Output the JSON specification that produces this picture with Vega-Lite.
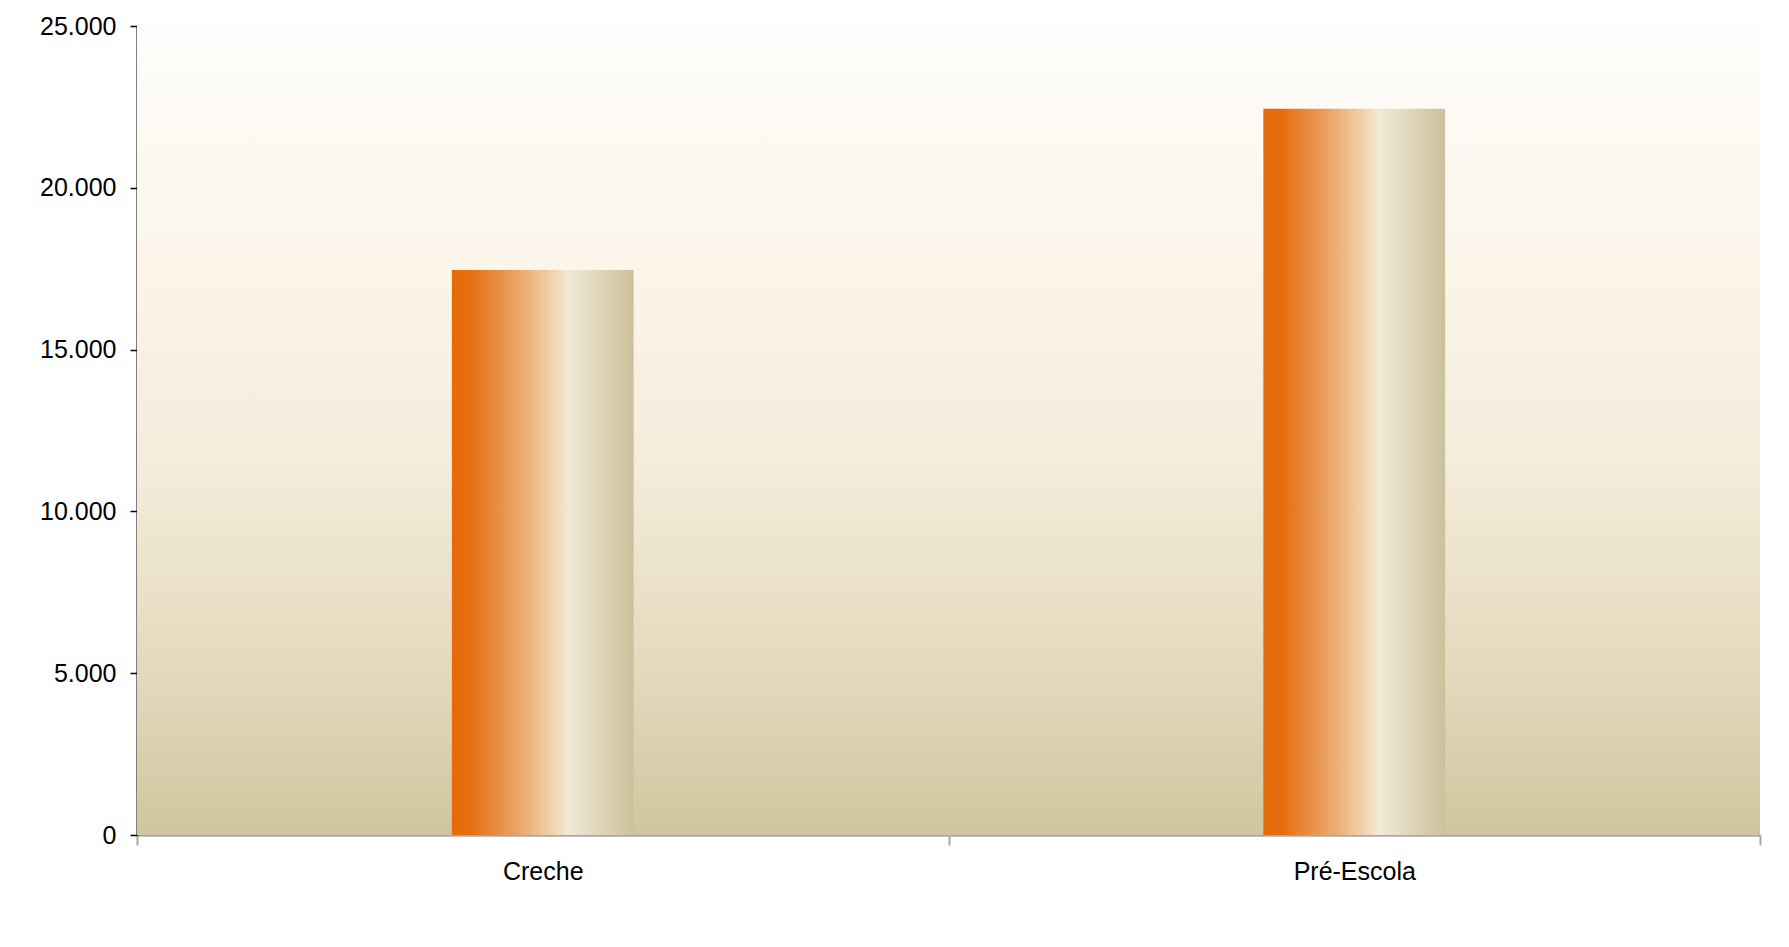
{
  "$schema": "https://vega.github.io/schema/vega-lite/v6.json",
  "autosize": {"type": "none"},
  "width": 1623,
  "height": 809,
  "padding": {"left": 137, "top": 26, "right": 29, "bottom": 112},
  "background": "#ffffff",
  "data": {"values": [
    {"categoria": "Creche", "matriculas": 17460},
    {"categoria": "Pré-Escola", "matriculas": 22440}
  ]},
  "config": {
    "view": {"stroke": null},
    "font": "Liberation Sans",
    "axis": {"grid": false, "labelFont": "Liberation Sans", "labelFontSize": 25, "labelColor": "#000000", "zindex": 2},
    "axisY": {"domain": true, "domainColor": "#000000", "domainWidth": 2, "domainOpacity": 1, "tickColor": "#000000", "tickWidth": 1.5, "tickOpacity": 1}
  },
  "layer": [
    {
      "mark": {
        "type": "rect",
        "color": {
          "gradient": "linear", "x1": 0, "y1": 0, "x2": 0, "y2": 1,
          "stops": [
            {"offset": 0, "color": "#fefdfb"},
            {"offset": 0.3, "color": "#fbf5ea"},
            {"offset": 0.55, "color": "#f4ecda"},
            {"offset": 0.8, "color": "#e4d9bc"},
            {"offset": 1, "color": "#d1c49f"}
          ]
        }
      },
      "encoding": {
        "y": {"datum": 25000, "type": "quantitative"},
        "y2": {"datum": 0}
      }
    },
    {
      "mark": {
        "type": "bar",
        "width": {"band": 0.224},
        "color": {
          "gradient": "linear", "x1": 0, "y1": 0, "x2": 1, "y2": 0,
          "stops": [
            {"offset": 0, "color": "#e56a0a"},
            {"offset": 0.1, "color": "#e66d0e"},
            {"offset": 0.35, "color": "#eaa262"},
            {"offset": 0.55, "color": "#efd2ac"},
            {"offset": 0.64, "color": "#f0ead6"},
            {"offset": 1, "color": "#cdc19c"}
          ]
        }
      },
      "encoding": {
        "x": {
          "field": "categoria", "type": "nominal", "sort": null,
          "scale": {"paddingInner": 0, "paddingOuter": 0},
          "axis": {
            "title": null, "labelAngle": 0, "tickBand": "extent",
            "domainColor": "#a8a8a8", "domainWidth": 2.5,
            "tickColor": "#a8a8a8", "tickWidth": 2, "tickSize": 10,
            "labelPadding": 14
          }
        },
        "y": {
          "field": "matriculas", "type": "quantitative",
          "scale": {"domain": [0, 25000], "nice": false},
          "axis": {
            "title": null, "values": [0, 5000, 10000, 15000, 20000, 25000],
            "labelExpr": "replace(format(datum.value, ','), ',', '.')",
            "domain": true, "domainColor": "#000000", "domainWidth": 2,
            "tickColor": "#000000", "tickSize": 7, "labelPadding": 14
          }
        }
      }
    }
  ]
}
